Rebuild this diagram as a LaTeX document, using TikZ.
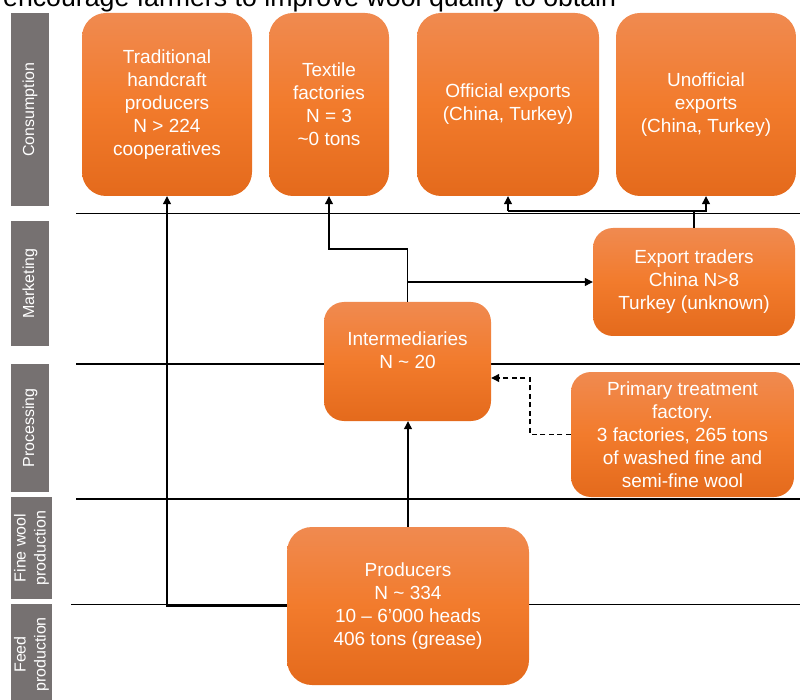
\documentclass[tikz,border=0pt]{standalone}
\usepackage{fontspec}
\setmainfont{Liberation Sans}
\usetikzlibrary{arrows.meta}

\definecolor{laneGrey}{HTML}{767171}
\definecolor{orTop}{HTML}{F08A50}
\definecolor{orMid}{HTML}{F27B2C}
\definecolor{orBot}{HTML}{E46A1C}

\begin{document}
\begin{tikzpicture}[x=1pt,y=-1pt,
  box/.style={rounded corners=#1, top color=orTop, bottom color=orBot,
    middle color=orMid, text=white, align=center, inner sep=0pt,
    font=\fontsize{19}{23}\selectfont},
  box/.default=24pt,
  boxtext/.style={text=white, align=center, inner sep=0pt,
    font=\fontsize{19}{23}\selectfont},
  lanelabel/.style={fill=laneGrey, text=white, rotate=90, align=center,
    inner sep=0pt, font=\fontsize{16}{20}\selectfont},
  lane/.style={line width=1.2pt, black},
  arr/.style={line width=1.2pt, black, -{Triangle[length=8pt,width=8pt]}},
  link/.style={line width=1.2pt, black},
  dashlink/.style={arr, dash pattern=on 5pt off 3.5pt}
]
\useasboundingbox (0,0) rectangle (800,700);

% heading line, cut by the page edge
\node[anchor=base west, inner sep=0pt, font=\fontsize{26.7}{32}\selectfont]
  (headline) at (3,7) {encourage farmers to improve wool quality to obtain};

% stage labels on the left
\node[lanelabel, minimum width=193pt, minimum height=38pt] (labCons) at (30,109.5) {Consumption};
\node[lanelabel, minimum width=125pt, minimum height=38pt] (labMark) at (30,283.5) {Marketing};
\node[lanelabel, minimum width=128pt, minimum height=38pt] (labProc) at (30,428) {Processing};
\node[lanelabel, minimum width=102pt, minimum height=41pt] (labFine) at (31.5,548) {Fine wool\\production};
\node[lanelabel, minimum width=101pt, minimum height=41pt] (labFeed) at (31.5,654.5) {Feed\\production};

% lane separators
\draw[lane] (76,213.5) -- (800,213.5);
\draw[lane] (76,364) -- (800,364);
\draw[lane] (76,499) -- (800,499);
\draw[lane] (71,604.5) -- (800,604.5);

% actors
\node[box, minimum width=170pt, minimum height=183pt] (trad) at (167,104.5)
  {Traditional\\handcraft\\producers\\N > 224\\cooperatives};
\node[box, minimum width=120pt, minimum height=183pt] (textile) at (329,104.5)
  {Textile\\factories\\N = 3\\\textasciitilde0 tons};
\node[box, minimum width=182pt, minimum height=183pt] (official) at (508,104.5)
  {Official exports\\(China, Turkey)};
\node[box, minimum width=180pt, minimum height=183pt] (unofficial) at (706,104.5)
  {Unofficial\\exports\\(China, Turkey)};
\node[box=20pt, minimum width=202pt, minimum height=108pt] (export) at (694,282)
  {Export traders\\China N>8\\Turkey (unknown)};
\node[box=20pt, minimum width=167pt, minimum height=119pt] (inter) at (407.5,361.5) {};
\node[boxtext] (interText) at (407.5,350) {Intermediaries\\N \textasciitilde{} 20};
\node[box=20pt, minimum width=223pt, minimum height=125pt] (primary) at (682.5,434.5)
  {Primary treatment\\factory.\\3 factories, 265 tons\\of washed fine and\\semi-fine wool};
\node[box=25pt, minimum width=242pt, minimum height=158pt] (prod) at (408,606)
  {Producers\\N \textasciitilde{} 334\\10 -- 6’000 heads\\406 tons (grease)};

% flows
\coordinate (bendTextile) at (0,249);
\coordinate (expY) at (0,211);
\coordinate (dashBend) at (530,378);

\draw[arr] (prod.north) -- (prod.north |- inter.south);
\draw[arr] (inter.north) -- (inter.north |- bendTextile) -| (textile.south);
\draw[arr] (inter.north |- export.west) -- (export.west);
\draw[arr] (prod.west) -| (trad.south);
\draw[link] (export.north) -- (export.north |- expY);
\draw[arr] (official.south |- expY) -- (official.south);
\draw[arr] (official.south |- expY) -| (unofficial.south);
\draw[dashlink] (primary.west) -| (dashBend) -- (inter.east |- dashBend);
\end{tikzpicture}
\end{document}
